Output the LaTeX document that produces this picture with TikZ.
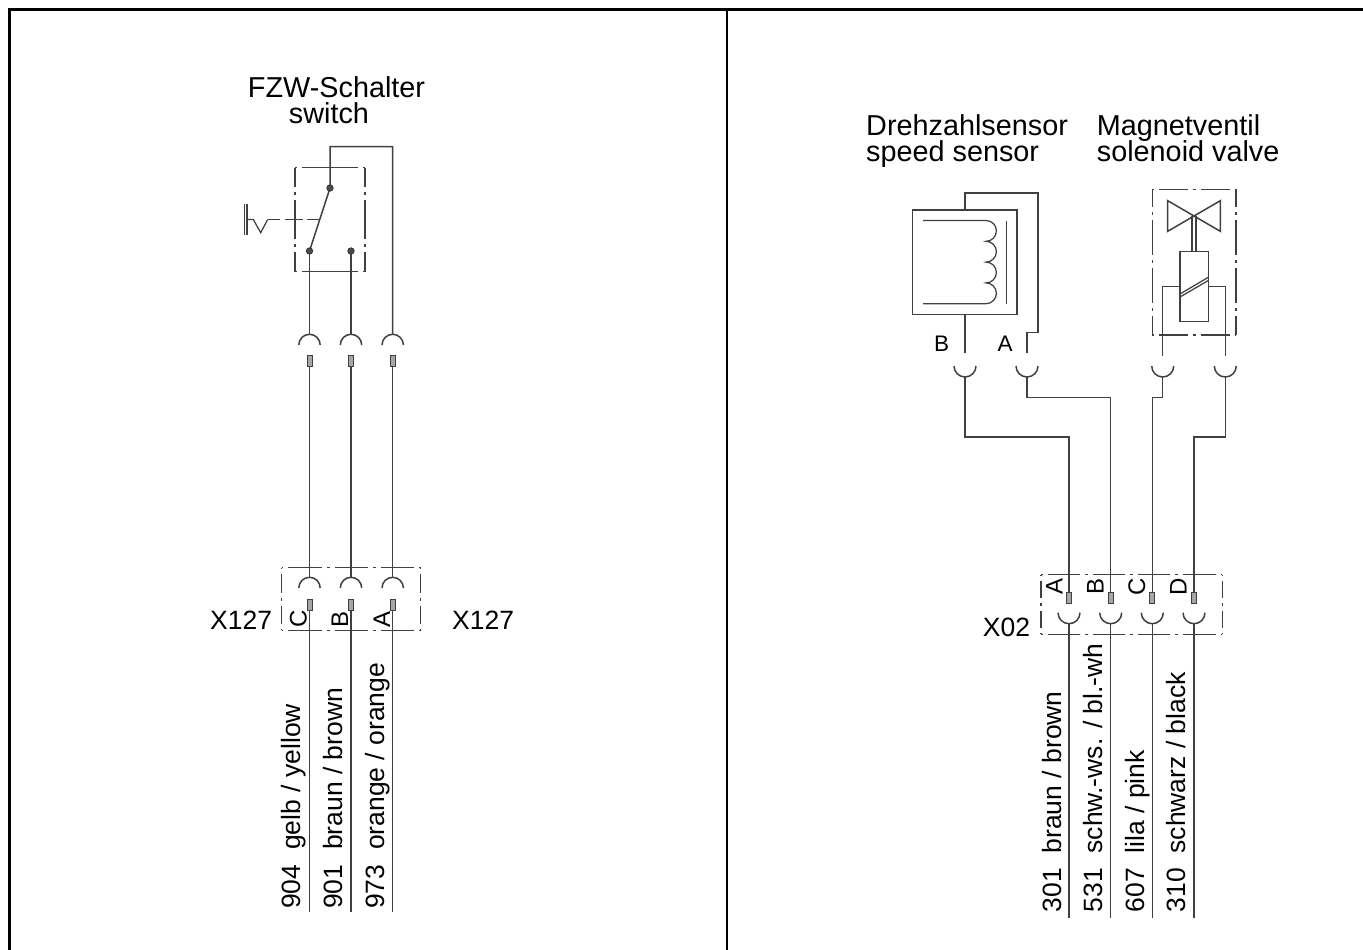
\documentclass[tikz,border=0pt]{standalone}
\usepackage{fontspec}
\setmainfont{Liberation Sans}

\tikzset{
	frame/.style={line width=2.4pt, black},
	wire/.style={line width=1.5pt, black!75},
	thin wire/.style={line width=1.25pt, black!75},
	chain/.style={wire, /utils/exec={\pgfmathsetmacro\chainOn{#1-13}\pgfmathsetmacro\chainPhase{#1-6.5}}, dash pattern=on \chainOn pt off 5pt on 3pt off 5pt, dash phase=\chainPhase pt},
	pin/.style={line width=1pt, draw=black!75, fill=black!35},
	contact/.style={draw=black!80, fill=black!70, line width=0.8pt},
	title/.style={inner sep=0pt, font=\fontsize{28.8}{28.8}\selectfont},
	plug/.style={inner sep=0pt, font=\fontsize{26.5}{26.5}\selectfont},
	cable/.style={inner sep=0pt, anchor=base west, rotate=90, font=\fontsize{26.5}{26.5}\selectfont},
	letter/.style={inner sep=0pt, font=\fontsize{22.5}{22.5}\selectfont},
	pinletter/.style={inner sep=0pt, anchor=base, rotate=90, font=\fontsize{24}{24}\selectfont}
}

\begin{document}
\begin{tikzpicture}[x=1pt, y=-1pt]

\useasboundingbox (0,0) rectangle (1363,950);

% Sheet frame.

	\coordinate (frameBL) at (9.5,950);
	\coordinate (frameTL) at (9.5,9.5);
	\coordinate (frameTR) at (1363,9.5);
	\coordinate (frameTM) at (727,9.5);
	\coordinate (frameBM) at (727,950);
	\draw[frame] (frameBL) -- (frameTL) -- (frameTR);
	\draw[frame] (frameTM) -- (frameBM);

% Define coordinates.

	%switch
	\coordinate (swTop) at (330,188);
	\coordinate (swC) at (309.5,251);
	\coordinate (swB) at (351,251);
	\coordinate (swBend1) at (330,146.7);
	\coordinate (swBend2) at (392.7,146.7);
	\coordinate (swArm) at (320,219.5);

	%left domes, upper row
	\coordinate (domeC0) at (309.5,334);
	\coordinate (domeB0) at (351,334);
	\coordinate (domeA0) at (392.7,334);

	%left pins, upper row
	\coordinate (pinC0) at (309.5,366);
	\coordinate (pinB0) at (351,366);
	\coordinate (pinA0) at (392.7,366);

	%left domes, plug
	\coordinate (domeC1) at (309.5,577.5);
	\coordinate (domeB1) at (351,577.5);
	\coordinate (domeA1) at (392.7,577.5);

	%left pins, plug
	\coordinate (pinC1) at (309.5,610);
	\coordinate (pinB1) at (351,610);
	\coordinate (pinA1) at (392.7,610);

	%left wire ends
	\coordinate (endC) at (309.5,911.7);
	\coordinate (endB) at (351,911.7);
	\coordinate (endA) at (392.7,911.7);

	%sensor
	\coordinate (senB0) at (965,210);
	\coordinate (senB1) at (965,314.3);
	\coordinate (senB2) at (965,353.3);
	\coordinate (senBend1) at (965,193);
	\coordinate (senBend2) at (1038,193);
	\coordinate (senBend3) at (1038,332.7);
	\coordinate (senBend4) at (1027,332.7);
	\coordinate (senA) at (1027,353.3);

	%valve
	\coordinate (valveL0) at (1180,286.7);
	\coordinate (valveL1) at (1162.7,286.7);
	\coordinate (valveL2) at (1162.7,355.7);
	\coordinate (valveR0) at (1208.3,286.7);
	\coordinate (valveR1) at (1225.3,286.7);
	\coordinate (valveR2) at (1225.3,355.7);

	%right cups, upper row
	\coordinate (cupB) at (965,377.3);
	\coordinate (cupA) at (1027,377.3);
	\coordinate (cupL) at (1162.7,377.3);
	\coordinate (cupR) at (1225.3,377.3);

	%right pins, plug
	\coordinate (pinA2) at (1069,592.3);
	\coordinate (pinB2) at (1110.7,592.3);
	\coordinate (pinC2) at (1152.3,592.3);
	\coordinate (pinD2) at (1194,592.3);

	%right cups, plug
	\coordinate (cupA2) at (1069,623.3);
	\coordinate (cupB2) at (1110.7,623.3);
	\coordinate (cupC2) at (1152.3,623.3);
	\coordinate (cupD2) at (1194,623.3);

	%right wire ends
	\coordinate (endA2) at (1069,918);
	\coordinate (endB2) at (1110.7,918);
	\coordinate (endC2) at (1152.3,918);
	\coordinate (endD2) at (1194,918);

% Draw switch.

	\draw[chain=69.9] (295,167.5) -- (365,167.5);
	\draw[chain=69.9] (295,271.7) -- (365,271.7);
	\draw[chain=52, dash phase=19.5pt] (295,167.5) -- (295,271.7);
	\draw[chain=52, dash phase=19.5pt] (365,167.5) -- (365,271.7);

	\draw[wire] (swC) -- (swTop) -- (swBend1) -- (swBend2) -- (domeA0);
	\draw[wire] (swC) -- (domeC0);
	\draw[wire] (swB) -- (domeB0);
	\filldraw[contact] (swTop) circle (3.2pt);
	\filldraw[contact] (swC) circle (3.2pt);
	\filldraw[contact] (swB) circle (3.2pt);

	\draw[thin wire] (244.5,204) -- (244.5,235);
	\draw[thin wire] (247,204) -- (247,235);
	\draw[thin wire] (247,219.5) -- (253.3,219.5) -- (260.7,232.7) -- (267.7,219.5);
	\draw[thin wire, dash pattern=on 12.3pt off 5pt on 18pt off 4pt on 13pt] (267.7,219.5) -- (swArm);

% Draw left connectors.

	\draw[wire] (298.8,345) arc [start angle=180, end angle=360, radius=10.7];
	\draw[wire] (340.3,345) arc [start angle=180, end angle=360, radius=10.7];
	\draw[wire] (382,345) arc [start angle=180, end angle=360, radius=10.7];
	\draw[wire] (pinC0) -- (domeC1);
	\draw[wire] (pinB0) -- (domeB1);
	\draw[wire] (pinA0) -- (domeA1);
	\draw[pin] (307,355) rectangle (312,366);
	\draw[pin] (348.5,355) rectangle (353.5,366);
	\draw[pin] (390.2,355) rectangle (395.2,366);

	\draw[chain=46.3] (281.7,567.7) -- (420.7,567.7);
	\draw[chain=46.3] (281.7,630.3) -- (420.7,630.3);
	\draw[chain=31.3] (281.7,567.7) -- (281.7,630.3);
	\draw[chain=31.3] (420.7,567.7) -- (420.7,630.3);

	\draw[wire] (298.8,588) arc [start angle=180, end angle=360, radius=10.7];
	\draw[wire] (340.3,588) arc [start angle=180, end angle=360, radius=10.7];
	\draw[wire] (382,588) arc [start angle=180, end angle=360, radius=10.7];
	\draw[wire] (pinC1) -- (endC);
	\draw[wire] (pinB1) -- (endB);
	\draw[wire] (pinA1) -- (endA);
	\draw[pin] (307,599) rectangle (312,610);
	\draw[pin] (348.5,599) rectangle (353.5,610);
	\draw[pin] (390.2,599) rectangle (395.2,610);

% Draw sensor.

	\draw[wire] (912.7,210) rectangle (1017,314.3);
	\draw[wire] (senB0) -- (senBend1) -- (senBend2) -- (senBend3) -- (senBend4) -- (senA);
	\draw[wire] (senB1) -- (senB2);

	\draw[thin wire] (923,220.5) -- (986,220.5) arc [start angle=-90, end angle=90, radius=10.4] arc [start angle=-90, end angle=90, radius=10.4] arc [start angle=-90, end angle=90, radius=10.4] arc [start angle=-90, end angle=90, radius=10.4] -- (923,303.7);
	\draw[thin wire] (1006.7,220.5) -- (1006.7,303.5);

% Draw valve.

	\draw[chain=41.85] (1152.3,189.3) -- (1236,189.3);
	\draw[chain=41.85] (1152.3,335) -- (1236,335);
	\draw[chain=48.3, dash phase=17.8pt] (1152.3,189.3) -- (1152.3,335);
	\draw[chain=48.3, dash phase=17.8pt] (1236,189.3) -- (1236,335);

	\draw[wire] (1194,216) -- (1167.7,200.7) -- (1167.7,231.3) -- (1220.3,200.7) -- (1220.3,231.3) -- cycle;
	\draw[wire] (1191.8,216) -- (1191.8,251.7);
	\draw[wire] (1196.2,216) -- (1196.2,251.7);
	\draw[wire] (1180,251.7) rectangle (1208.3,321.3);
	\draw[thin wire] (1180,294) -- (1208.3,277.3);
	\draw[thin wire] (1180,297) -- (1208.3,280.5);
	\draw[wire] (valveL0) -- (valveL1) -- (valveL2);
	\draw[wire] (valveR0) -- (valveR1) -- (valveR2);

% Draw right connectors.

	\draw[wire] (954,366) arc [start angle=180, end angle=0, radius=11];
	\draw[wire] (1016,366) arc [start angle=180, end angle=0, radius=11];
	\draw[wire] (1151.7,366) arc [start angle=180, end angle=0, radius=11];
	\draw[wire] (1214.3,366) arc [start angle=180, end angle=0, radius=11];

	\draw[wire] (cupB) -- (965,437) -- (1069,437) -- (pinA2);
	\draw[wire] (cupA) -- (1027,397.7) -- (1110.7,397.7) -- (pinB2);
	\draw[wire] (cupL) -- (1162.7,397.7) -- (1152.3,397.7) -- (pinC2);
	\draw[wire] (cupR) -- (1225.3,437) -- (1194,437) -- (pinD2);

	\draw[chain=45.3] (1041,574.7) -- (1222.3,574.7);
	\draw[chain=45.3] (1041,634.3) -- (1222.3,634.3);
	\draw[chain=29.8] (1041,574.7) -- (1041,634.3);
	\draw[chain=29.8] (1222.3,574.7) -- (1222.3,634.3);

	\draw[pin] (1066.5,592.3) rectangle (1071.5,603.3);
	\draw[pin] (1108.2,592.3) rectangle (1113.2,603.3);
	\draw[pin] (1149.8,592.3) rectangle (1154.8,603.3);
	\draw[pin] (1191.5,592.3) rectangle (1196.5,603.3);

	\draw[wire] (1058,612.7) arc [start angle=180, end angle=0, radius=11];
	\draw[wire] (1099.7,612.7) arc [start angle=180, end angle=0, radius=11];
	\draw[wire] (1141.3,612.7) arc [start angle=180, end angle=0, radius=11];
	\draw[wire] (1183,612.7) arc [start angle=180, end angle=0, radius=11];

	\draw[wire] (cupA2) -- (endA2);
	\draw[wire] (cupB2) -- (endB2);
	\draw[wire] (cupC2) -- (endC2);
	\draw[wire] (cupD2) -- (endD2);

% Draw titles.

	\node[title, anchor=base] (fzwTitle) at (336.5,97) {FZW-Schalter};
	\node[title, anchor=base] (fzwSub) at (329,123) {switch};
	\node[title, anchor=base west] (senTitle) at (866,135) {Drehzahlsensor};
	\node[title, anchor=base west] (senSub) at (866,161.7) {speed sensor};
	\node[title, anchor=base west] (valveTitle) at (1096.7,135) {Magnetventil};
	\node[title, anchor=base west] (valveSub) at (1096.7,161.7) {solenoid valve};

% Draw plug labels.

	\node[plug, anchor=base west] (plugL) at (210,629) {X127};
	\node[plug, anchor=base west] (plugR) at (452,629) {X127};
	\node[plug, anchor=base west] (plugX) at (982.7,636) {X02};

	\node[letter, anchor=base] (sensorB) at (941.5,351.7) {B};
	\node[letter, anchor=base] (sensorA) at (1005,351.7) {A};

	\node[pinletter] (pinLabelC) at (306.7,619.3) {C};
	\node[pinletter] (pinLabelB) at (348,619.3) {B};
	\node[pinletter] (pinLabelA) at (390,619.3) {A};

	\node[pinletter] (pinLabelA2) at (1062.7,586.7) {A};
	\node[pinletter] (pinLabelB2) at (1103.5,586.7) {B};
	\node[pinletter] (pinLabelC2) at (1145,586.7) {C};
	\node[pinletter] (pinLabelD2) at (1186.7,586.7) {D};

% Draw cable labels.

	\node[cable] (cable904) at (300.7,909) {904\ \ gelb / yellow};
	\node[cable] (cable901) at (342.3,909) {901\ \ braun / brown};
	\node[cable] (cable973) at (384,909) {973\ \ orange / orange};

	\node[cable] (cable301) at (1061.7,912.5) {301\ \ braun / brown};
	\node[cable] (cable531) at (1102.5,912.5) {531\ \ schw.-ws. / bl.-wh};
	\node[cable] (cable607) at (1144,912.5) {607\ \ lila / pink};
	\node[cable] (cable310) at (1185.7,912.5) {310\ \ schwarz / black};

\end{tikzpicture}
\end{document}
